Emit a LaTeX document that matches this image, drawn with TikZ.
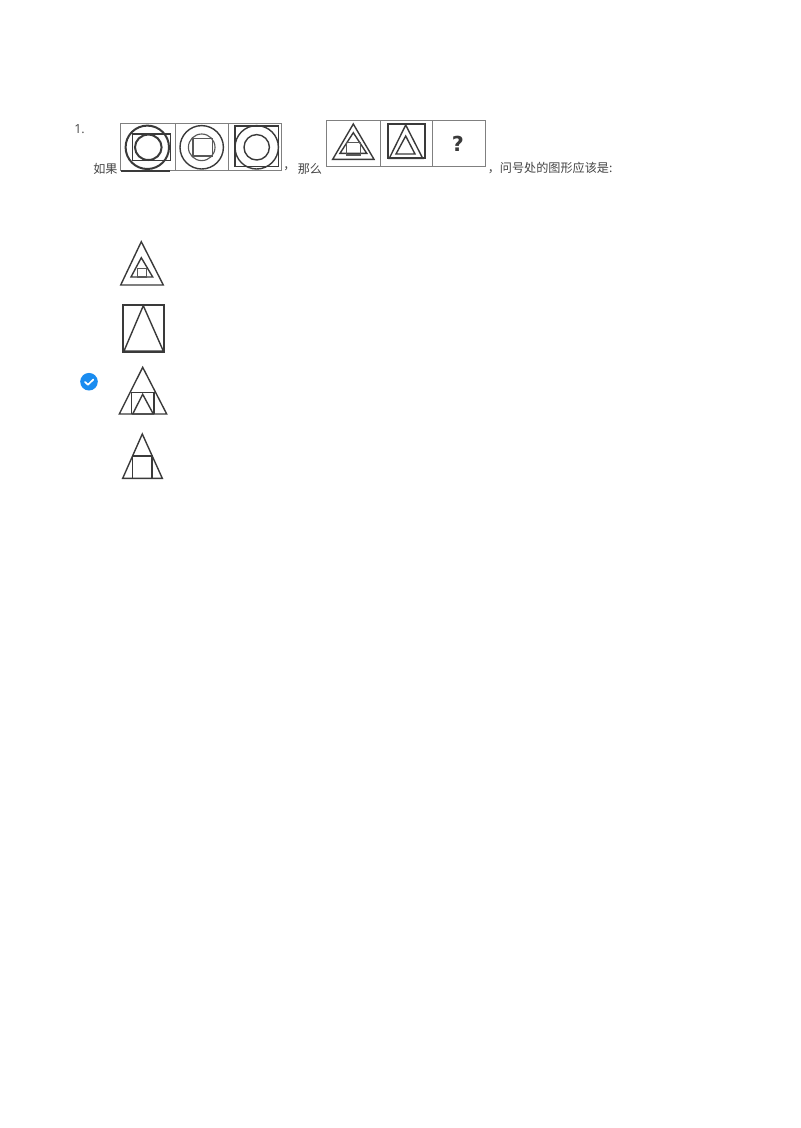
\documentclass[tikz,border=0pt]{standalone}
\usepackage{fontspec}
\setmainfont{Noto Sans CJK SC}[Scale=1.0]
\newfontfamily\latinf{Open Sans}
\newfontfamily\qfont{DejaVu Sans}
\definecolor{ink}{HTML}{3A3A3A}
\definecolor{frameink}{HTML}{808080}
\definecolor{txt}{HTML}{444444}
\definecolor{tick}{HTML}{1A8CF0}
\tikzset{
  fig/.style={draw=ink,line width=1.05pt,line join=miter},
  figthick/.style={draw=ink,line width=1.5pt},
  figthin/.style={draw=ink!85,line width=0.85pt},
  framebox/.style={draw=frameink,line width=0.65pt},
  lbl/.style={text=txt,font=\fontsize{9.1pt}{11pt}\selectfont,inner sep=0pt,anchor=west},
}
\begin{document}
\begin{tikzpicture}[x=0.75pt,y=-0.75pt]
\useasboundingbox (0,0) rectangle (800,1128);
% text
\node[lbl,font=\latinf\fontsize{9.4pt}{11pt}\selectfont] (num) at (74,129.5) {1.};
\node[lbl] (t1) at (93,169) {如果};
\node[lbl] (t2) at (283,169) {，};
\node[lbl] (t3) at (297.5,169) {那么};
\node[lbl] (t4) at (487.5,168) {，问号处的图形应该是:};
% row 1 frames
\draw[framebox] (120.7,123.3) rectangle (281.7,170.5);
\draw[framebox] (175.3,123.3) -- (175.3,170.5);
\draw[framebox] (228.7,123.3) -- (228.7,170.5);
\draw[draw=ink,line width=0.9pt] (121,171) -- (170,171);
% 1st figure
\draw[figthick] (147.3,147.3) circle (21.7);
\draw[fig] (132.7,134) rectangle (170.7,160.7);
\draw[figthick] (148.3,147.3) ellipse (13.3 and 12.7);
% 2nd figure
\draw[fig] (201.7,147.3) circle (21.7);
\draw[figthin] (201.7,147.3) circle (13.3);
\draw[figthin] (193,138.5) rectangle (212.5,156);
% 3rd figure
\draw[fig] (256.7,147.3) circle (21.7);
\draw[fig] (256.7,147.3) circle (12.7);
\draw[fig] (235,126) rectangle (278.3,166.7);
% row 2 frames
\draw[framebox] (326.7,120) rectangle (485.3,166.7);
\draw[framebox] (380,120) -- (380,166.7);
\draw[framebox] (432.7,120) -- (432.7,166.7);
% triangle figure
\draw[fig] (353.3,124) -- (332.7,159.3) -- (374,159.3) -- cycle;
\draw[fig] (353.3,132.7) -- (340,153.3) -- (366.7,153.3) -- cycle;
\draw[figthin] (346.7,142.7) rectangle (360.7,155);
% square figure
\draw[figthick] (387.7,124) rectangle (425,158.3);
\draw[fig] (405.7,125) -- (389.3,158.3) -- (422.7,158.3) -- cycle;
\draw[fig] (405.7,136) -- (396,154) -- (415,154) -- cycle;
\node[text=ink,font=\qfont\bfseries\fontsize{15.5pt}{15.5pt}\selectfont,inner sep=0pt] (q) at (457.8,143.5) {?};
% option A
\draw[fig] (141.3,241.7) -- (120.7,285) -- (163.3,285) -- cycle;
\draw[fig] (141.3,257.7) -- (131,277) -- (152.7,277) -- cycle;
\draw[figthin] (137.3,268.3) rectangle (146.7,277);
% option B
\draw[figthick] (122.7,305) rectangle (164.3,351.7);
\draw[fig] (143.3,305.7) -- (124,351) -- (163.3,351) -- cycle;
% option C
\node[circle,fill=tick,minimum size=13.2pt,inner sep=0pt] (chk) at (89,381.7) {};
\draw[white,line width=1.3pt,line cap=round,line join=round] (85,382) -- (88,384.7) -- (93.2,379.6);
\draw[fig] (142.7,367.3) -- (119.3,414) -- (166.7,414) -- cycle;
\draw[fig] (131.3,414) -- (131.3,392.7) -- (154,392.7) -- (154,414);
\draw[fig] (142.7,394.3) -- (132.7,414) -- (153.3,414) -- cycle;
% option D
\draw[fig] (142.3,434) -- (122.7,478.3) -- (162.3,478.3) -- cycle;
\draw[fig] (132.7,456) rectangle (152,478.3);
\end{tikzpicture}
\end{document}
